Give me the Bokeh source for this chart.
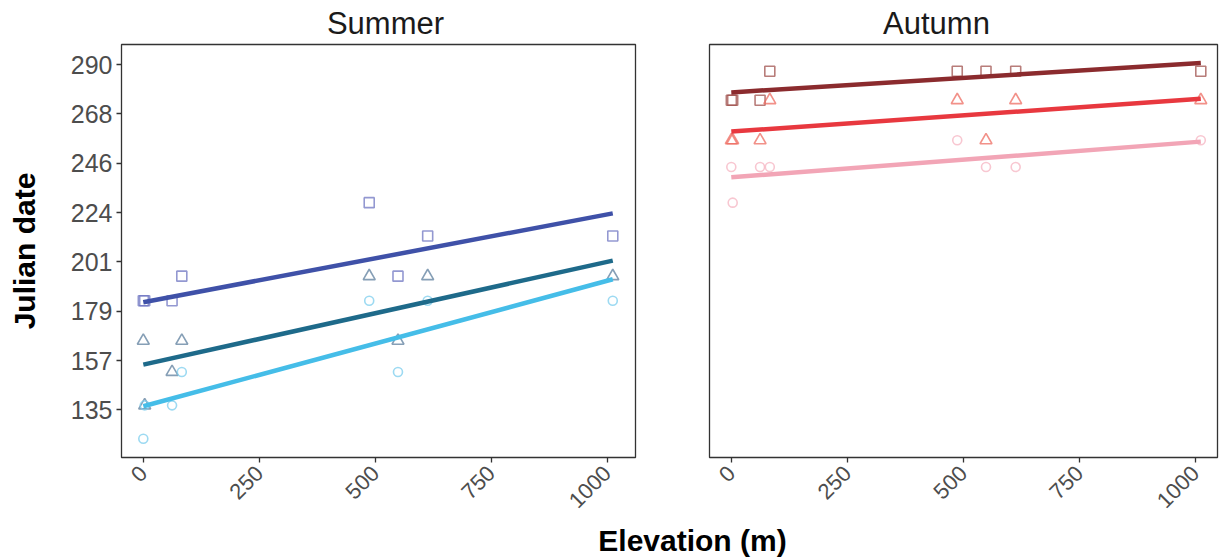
import math
from bokeh.plotting import figure
from bokeh.layouts import column, row
from bokeh.models import FixedTicker, Range1d
from bokeh.core.properties import value
from bokeh.embed import file_html
from bokeh.resources import INLINE

# ---------------- data ----------------
elevation = [0, 3, 62, 83, 487, 549, 613, 1012]

summer_square = [184, 184, 184, 195, 228, 195, 213, 213]
summer_triangle = [166, 137, 152, 166, 195, 166, 195, 195]
summer_circle = [122, 137, 137, 152, 184, 152, 184, 184]

autumn_square = [274, 274, 274, 287, 287, 287, 287, 287]
autumn_triangle = [256, 256, 256, 274, 274, 256, 274, 274]
autumn_circle = [244, 228, 244, 244, 256, 244, 244, 256]

# fitted lines: value at lowest and highest elevation (square, triangle, circle)
summer_fit_start = [183.3, 155.3, 136.6]
summer_fit_end = [223.2, 202.0, 193.6]
autumn_fit_start = [277.5, 259.9, 239.4]
autumn_fit_end = [290.7, 274.6, 255.4]

panels = ["Summer", "Autumn"]
y_tick_values = [135, 157.14, 179.29, 201.43, 223.57, 245.71, 267.86, 290]
y_tick_labels = ["135", "157", "179", "201", "224", "246", "268", "290"]
x_tick_values = [0, 250, 500, 750, 1000]
x_tick_labels = ["0", "250", "500", "750", "1000"]

# ---------------- style ----------------
FONT = "Liberation Sans"
summer_line_colors = ["#3f51a8", "#1e6a8a", "#45bde8"]
summer_point_colors = ["#6f75c2", "#5d7f9e", "#7ccdee"]
autumn_line_colors = ["#8b2b2e", "#e8383f", "#f2a5b6"]
autumn_point_colors = ["#a0524e", "#ee6c62", "#f5b4c2"]
markers = [("square", 10), ("triangle", 12), ("circle", 9)]

Y_RANGE = (113.6, 299.0)


def style_axes(p, show_y):
    p.xgrid.visible = False
    p.ygrid.visible = False
    p.outline_line_color = "#333333"
    p.outline_line_width = 1.3
    p.background_fill_color = "white"
    p.border_fill_color = "white"
    ax = p.xaxis[0]
    ax.ticker = FixedTicker(ticks=x_tick_values)
    ax.major_label_overrides = {v: l for v, l in zip(x_tick_values, x_tick_labels)}
    ax.axis_line_color = None
    ax.major_tick_in = 0
    ax.major_tick_out = 5
    ax.major_tick_line_color = "#333333"
    ax.major_tick_line_width = 1.3
    ax.minor_tick_line_color = None
    ax.major_label_orientation = math.pi / 4
    ax.major_label_text_font = FONT
    ax.major_label_text_font_size = "22px"
    ax.major_label_text_color = "#4d4d4d"
    ax.major_label_standoff = 7
    if show_y:
        ay = p.yaxis[0]
        ay.ticker = FixedTicker(ticks=y_tick_values)
        ay.major_label_overrides = {v: l for v, l in zip(y_tick_values, y_tick_labels)}
        ay.axis_line_color = None
        ay.major_tick_in = 0
        ay.major_tick_out = 5
        ay.major_tick_line_color = "#333333"
        ay.major_tick_line_width = 1.3
        ay.minor_tick_line_color = None
        ay.major_label_text_font = FONT
        ay.major_label_text_font_size = "25px"
        ay.major_label_text_color = "#4d4d4d"
        ay.major_label_standoff = 4
        ay.axis_label = "Julian date"
        ay.axis_label_text_font = FONT
        ay.axis_label_text_font_style = "bold"
        ay.axis_label_text_font_size = "30px"
        ay.axis_label_text_color = "#000000"
        ay.axis_label_standoff = 27


def draw_panel(p, series, line_colors, point_colors, fit_start, fit_end):
    for (mk, sz), ys, pc in zip(markers, series, point_colors):
        p.scatter(elevation, ys, marker=mk, size=sz, fill_color=None,
                  line_color=pc, line_alpha=0.75, line_width=1.6)
    x0, x1 = min(elevation), max(elevation)
    for s, e, lc in zip(fit_start, fit_end, line_colors):
        p.line([x0, x1], [s, e], line_color=lc, line_width=4.5)


left = figure(width=672, height=480, x_range=Range1d(-47, 1061),
              y_range=Range1d(*Y_RANGE), output_backend="svg",
              toolbar_location=None, min_border_left=121, min_border_right=37,
              min_border_top=4, min_border_bottom=63)
style_axes(left, True)
draw_panel(left, [summer_square, summer_triangle, summer_circle],
           summer_line_colors, summer_point_colors, summer_fit_start, summer_fit_end)

right = figure(width=547, height=480, x_range=Range1d(-47, 1048),
               y_range=Range1d(*Y_RANGE), output_backend="svg",
               toolbar_location=None, y_axis_location=None,
               min_border_left=37, min_border_right=2,
               min_border_top=4, min_border_bottom=63)
style_axes(right, False)
draw_panel(right, [autumn_square, autumn_triangle, autumn_circle],
           autumn_line_colors, autumn_point_colors, autumn_fit_start, autumn_fit_end)


def text_strip(height, texts, xs, y, size, style, color):
    f = figure(width=1219, height=height, x_range=Range1d(0, 1219),
               y_range=Range1d(0, height), output_backend="svg",
               toolbar_location=None, min_border=0,
               x_axis_location=None, y_axis_location=None)
    f.xgrid.visible = False
    f.ygrid.visible = False
    f.outline_line_color = None
    f.border_fill_color = "white"
    f.text(x=xs, y=[y] * len(xs), text=texts, text_font=value(FONT),
           text_font_size=size, text_font_style=style, text_color=color,
           text_align="center", text_baseline="middle")
    return f


header = text_strip(40, panels, [385, 936], 17, "31px", "normal", "#1a1a1a")
footer = text_strip(40, ["Elevation (m)"], [692], 20, "30px", "bold", "#000000")

layout = column(header, row(left, right), footer)
open("out.html", "w").write(file_html(layout, INLINE))
